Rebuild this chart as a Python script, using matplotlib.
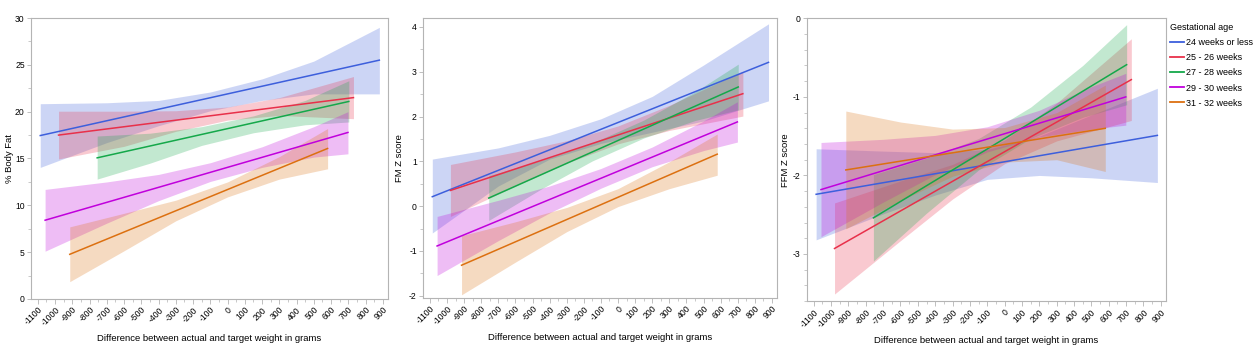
import matplotlib
matplotlib.use("Agg")
import matplotlib.pyplot as plt
from matplotlib.ticker import MultipleLocator
from matplotlib.lines import Line2D

plt.rcParams['font.family'] = ['Liberation Sans', 'DejaVu Sans']
plt.rcParams['axes.unicode_minus'] = False

groups = ["24 weeks or less", "25 - 26 weeks", "27 - 28 weeks", "29 - 30 weeks", "31 - 32 weeks"]
line_colors = ["#3d5fdc", "#e8304a", "#14a84a", "#c000dc", "#dc7010"]
xticks = list(range(-1100, 1000, 100))
xlabel = "Difference between actual and target weight in grams"

# line endpoints (x in grams)
x_ends = {
    "24 weeks or less": [-1086, 880],
    "25 - 26 weeks": [-980, 730],
    "27 - 28 weeks": [-756, 703],
    "29 - 30 weeks": [-1058, 698],
    "31 - 32 weeks": [-915, 580],
}
# band sample positions
band_x = {
    "24 weeks or less": [-1086, -700, -400, -100, 200, 500, 880],
    "25 - 26 weeks": [-980, -600, -300, 0, 300, 730],
    "27 - 28 weeks": [-756, -450, -150, 150, 450, 703],
    "29 - 30 weeks": [-1058, -700, -400, -100, 200, 500, 698],
    "31 - 32 weeks": [-915, -600, -300, 0, 300, 580],
}

# ---- Panel 1: % Body Fat ----
bf_line = {
    "24 weeks or less": [17.45, 25.5],
    "25 - 26 weeks": [17.5, 21.5],
    "27 - 28 weeks": [15.07, 21.09],
    "29 - 30 weeks": [8.41, 17.78],
    "31 - 32 weeks": [4.77, 16.07],
}
bf_upper = {
    "24 weeks or less": [20.85, 20.95, 21.2, 22.1, 23.5, 25.4, 29.0],
    "25 - 26 weeks": [20.05, 20.05, 20.1, 20.5, 21.5, 23.75],
    "27 - 28 weeks": [17.4, 17.7, 18.4, 19.55, 21.2, 23.3],
    "29 - 30 weeks": [11.7, 12.5, 13.3, 14.55, 16.25, 18.4, 20.0],
    "31 - 32 weeks": [7.7, 9.15, 10.55, 12.5, 15.2, 18.2],
}
bf_lower = {
    "24 weeks or less": [14.05, 16.7, 18.5, 20.1, 21.2, 21.9, 21.9],
    "25 - 26 weeks": [14.95, 16.3, 17.9, 19.1, 19.6, 19.25],
    "27 - 28 weeks": [12.8, 14.5, 16.4, 17.75, 18.6, 18.9],
    "29 - 30 weeks": [5.1, 8.1, 10.5, 12.55, 14.05, 15.15, 15.5],
    "31 - 32 weeks": [1.85, 5.15, 8.35, 10.9, 12.8, 13.9],
}

# ---- Panel 2: FM Z score ----
fm_line = {
    "24 weeks or less": [0.21, 3.21],
    "25 - 26 weeks": [0.35, 2.51],
    "27 - 28 weeks": [0.18, 2.66],
    "29 - 30 weeks": [-0.89, 1.88],
    "31 - 32 weeks": [-1.32, 1.16],
}
fm_upper = {
    "24 weeks or less": [1.05, 1.3, 1.58, 1.95, 2.45, 3.15, 4.07],
    "25 - 26 weeks": [0.93, 1.21, 1.46, 1.79, 2.25, 3.01],
    "27 - 28 weeks": [0.68, 1.02, 1.41, 1.92, 2.55, 3.17],
    "29 - 30 weeks": [-0.23, 0.13, 0.45, 0.84, 1.32, 1.9, 2.33],
    "31 - 32 weeks": [-0.66, -0.35, -0.03, 0.39, 0.99, 1.61],
}
fm_lower = {
    "24 weeks or less": [-0.6, 0.45, 1.05, 1.4, 1.65, 1.9, 2.35],
    "25 - 26 weeks": [-0.23, 0.45, 0.96, 1.39, 1.69, 2.01],
    "27 - 28 weeks": [-0.32, 0.38, 1.01, 1.52, 1.91, 2.15],
    "29 - 30 weeks": [-1.55, -0.77, -0.15, 0.4, 0.88, 1.24, 1.43],
    "31 - 32 weeks": [-1.98, -1.25, -0.57, -0.01, 0.39, 0.69],
}

# ---- Panel 3: FFM Z score ----
ffm_line = {
    "24 weeks or less": [-2.24, -1.49],
    "25 - 26 weeks": [-2.93, -0.78],
    "27 - 28 weeks": [-2.54, -0.59],
    "29 - 30 weeks": [-2.18, -1.0],
    "31 - 32 weeks": [-1.93, -1.4],
}
ffm_upper = {
    "24 weeks or less": [-1.66, -1.69, -1.71, -1.67, -1.5, -1.23, -0.89],
    "25 - 26 weeks": [-2.35, -2.07, -1.86, -1.55, -1.08, -0.26],
    "27 - 28 weeks": [-1.99, -1.78, -1.53, -1.13, -0.6, -0.08],
    "29 - 30 weeks": [-1.58, -1.54, -1.49, -1.38, -1.17, -0.87, -0.7],
    "31 - 32 weeks": [-1.18, -1.32, -1.41, -1.39, -1.2, -0.85],
}
ffm_lower = {
    "24 weeks or less": [-2.82, -2.49, -2.25, -2.05, -2.0, -2.03, -2.09],
    "25 - 26 weeks": [-3.51, -2.83, -2.3, -1.85, -1.56, -1.3],
    "27 - 28 weeks": [-3.09, -2.48, -1.93, -1.53, -1.26, -1.1],
    "29 - 30 weeks": [-2.78, -2.34, -1.99, -1.7, -1.51, -1.41, -1.36],
    "31 - 32 weeks": [-2.68, -2.32, -2.01, -1.83, -1.8, -1.95],
}

panels = [
    dict(ylabel="% Body Fat", line=bf_line, up=bf_upper, lo=bf_lower,
         ylim=(0, 30), major=5, minor=2.5, lpad=1.0,
         pos=[0.0246, 0.153, 0.2838, 0.796]),
    dict(ylabel="FM Z score", line=fm_line, up=fm_upper, lo=fm_lower,
         ylim=(-2.05, 4.2), major=1, minor=0.5, lpad=4.0,
         pos=[0.3363, 0.156, 0.2814, 0.793]),
    dict(ylabel="FFM Z score", line=ffm_line, up=ffm_upper, lo=ffm_lower,
         ylim=(-3.6, 0), major=1, minor=0.2, lpad=2.0,
         pos=[0.6413, 0.147, 0.2856, 0.801]),
]

fig = plt.figure(figsize=(12.58, 3.53), dpi=100)
spine_col = "#b4b4b4"
for p in panels:
    ax = fig.add_axes(p["pos"])
    for g, c in zip(groups, line_colors):
        ax.fill_between(band_x[g], p["lo"][g], p["up"][g], color=c, alpha=0.26,
                        linewidth=0, zorder=1)
    for g, c in zip(groups, line_colors):
        ax.plot(x_ends[g], p["line"][g], color=c, lw=1.1, zorder=3)
    ax.set_xlim(-1140, 930)
    ax.set_ylim(*p["ylim"])
    ax.set_xticks(xticks)
    ax.set_xticklabels([str(t) for t in xticks], rotation=45, ha="right",
                       rotation_mode="anchor", fontsize=6.2)
    ax.xaxis.set_minor_locator(MultipleLocator(50))
    ax.yaxis.set_major_locator(MultipleLocator(p["major"]))
    ax.yaxis.set_minor_locator(MultipleLocator(p["minor"]))
    ax.tick_params(axis="y", labelsize=6.2, length=3, width=0.6, color=spine_col, pad=1.5)
    ax.tick_params(axis="x", length=3.5, width=0.6, color=spine_col, pad=1)
    ax.tick_params(which="minor", length=2, width=0.5, color=spine_col)
    for s in ax.spines.values():
        s.set_color(spine_col)
        s.set_linewidth(0.8)
    ax.set_ylabel(p["ylabel"], fontsize=6.8, labelpad=p["lpad"])
    ax.set_xlabel(xlabel, fontsize=6.8, labelpad=5)

handles = [Line2D([0], [0], color=c, lw=1.3) for c in line_colors]
leg = fig.legend(handles, groups, title="Gestational age", loc="upper left",
                 bbox_to_anchor=(0.9297, 0.935), frameon=False, fontsize=6.5,
                 title_fontsize=6.5, handlelength=1.55, handletextpad=0.25,
                 labelspacing=0.68, borderaxespad=0, borderpad=0)
leg._legend_box.align = "left"
fig.savefig("out.png", dpi=100)
